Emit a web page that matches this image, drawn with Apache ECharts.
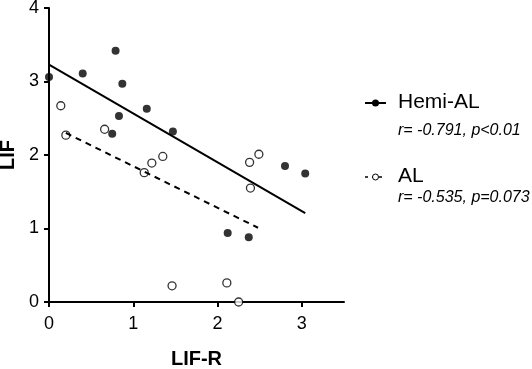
<!DOCTYPE html>
<html>
<head>
    <meta charset="UTF-8">
    <title>LIF vs LIF-R</title>
    <script src="https://cdn.jsdelivr.net/npm/echarts@6/dist/echarts.min.js"></script>
</head>
<body style="margin:0;background:#fff;">
<div id="chart" style="width:532px;height:369px;"></div>
<script type="text/javascript">
    // Hemi-AL (filled dots): [LIF-R, LIF]
    var hemiPoints = [
        [0.00, 3.06], [0.40, 3.11], [0.79, 3.42], [0.87, 2.97],
        [1.16, 2.63], [0.83, 2.53], [0.75, 2.29], [1.47, 2.32],
        [2.80, 1.85], [3.04, 1.75], [2.12, 0.94], [2.37, 0.88]
    ];
    // AL (open circles)
    var alPoints = [
        [0.14, 2.67], [0.20, 2.27], [0.66, 2.35], [1.13, 1.76],
        [1.22, 1.89], [1.35, 1.98], [2.38, 1.90], [2.49, 2.01],
        [2.39, 1.55], [1.46, 0.22], [2.11, 0.26], [2.25, 0.00]
    ];
    // regression line end points
    var hemiFit = [[0, 3.23], [3.04, 1.21]];
    var alFit = [[0.20, 2.30], [2.48, 1.01]];

    var xTicks = [0, 1, 2, 3];
    var yTicks = [0, 1, 2, 3, 4];
    var seriesNames = ['Hemi-AL', 'AL'];
    var statTexts = ['r= -0.791, p<0.01', 'r= -0.535, p=0.073'];

    var font = '"Liberation Sans", Arial, sans-serif';
    var chart = echarts.init(document.getElementById('chart'));

    var axisCommon = {
        type: 'value',
        splitLine: {show: false},
        axisLine: {show: true, onZero: false, lineStyle: {color: '#000', width: 2}},
        axisTick: {show: true, length: 5, lineStyle: {color: '#000', width: 2}},
        axisLabel: {color: '#000', fontSize: 18, fontFamily: font},
        nameLocation: 'middle',
        nameTextStyle: {color: '#000', fontSize: 20, fontWeight: 'bold', fontFamily: font}
    };

    var option = {
        animation: false,
        grid: {left: 49, top: 8, right: 188, bottom: 67, containLabel: false, outerBoundsMode: 'none'},
        xAxis: echarts.util.merge({
            min: 0, max: 3.5, interval: 1,
            name: 'LIF-R', nameGap: 47,
            axisTick: {customValues: xTicks},
            axisLabel: {customValues: xTicks, margin: 13}
        }, axisCommon),
        yAxis: echarts.util.merge({
            min: 0, max: 4, interval: 1,
            name: 'LIF', nameGap: 29,
            axisTick: {customValues: yTicks},
            axisLabel: {customValues: yTicks, margin: 10}
        }, axisCommon),
        series: [
            {
                name: seriesNames[0], type: 'scatter', data: hemiPoints,
                symbol: 'circle', symbolSize: 8,
                itemStyle: {color: '#000'}, z: 3
            },
            {
                name: seriesNames[1], type: 'scatter', data: alPoints,
                symbol: 'circle', symbolSize: 8,
                itemStyle: {color: '#fff', borderColor: '#000', borderWidth: 1.3}, z: 3
            },
            {
                type: 'line', data: hemiFit, showSymbol: false, silent: true,
                lineStyle: {color: '#000', width: 2}, z: 4
            },
            {
                type: 'line', data: alFit, showSymbol: false, silent: true,
                lineStyle: {color: '#000', width: 2, type: [6, 5]}, z: 4
            }
        ],
        graphic: [
            // Hemi-AL legend
            {type: 'line', shape: {x1: 365, y1: 103, x2: 386, y2: 103}, style: {stroke: '#000', lineWidth: 2}},
            {type: 'circle', shape: {cx: 375.5, cy: 103, r: 3.5}, style: {fill: '#000'}},
            {type: 'text', left: 398, top: 92, style: {text: seriesNames[0], fill: '#000', font: '21px ' + font}},
            {type: 'text', left: 398, top: 123, style: {text: statTexts[0], fill: '#000', font: 'italic 16px ' + font}},
            // AL legend
            {type: 'line', shape: {x1: 365, y1: 177, x2: 384, y2: 177}, style: {stroke: '#000', lineWidth: 1.5, lineDash: [3, 4]}},
            {type: 'circle', shape: {cx: 375.5, cy: 177, r: 3}, style: {fill: '#fff', stroke: '#000', lineWidth: 1}},
            {type: 'text', left: 398, top: 166, style: {text: seriesNames[1], fill: '#000', font: '21px ' + font}},
            {type: 'text', left: 398, top: 190, style: {text: statTexts[1], fill: '#000', font: 'italic 16px ' + font}}
        ]
    };
    chart.setOption(option);
</script>
</body>
</html>
